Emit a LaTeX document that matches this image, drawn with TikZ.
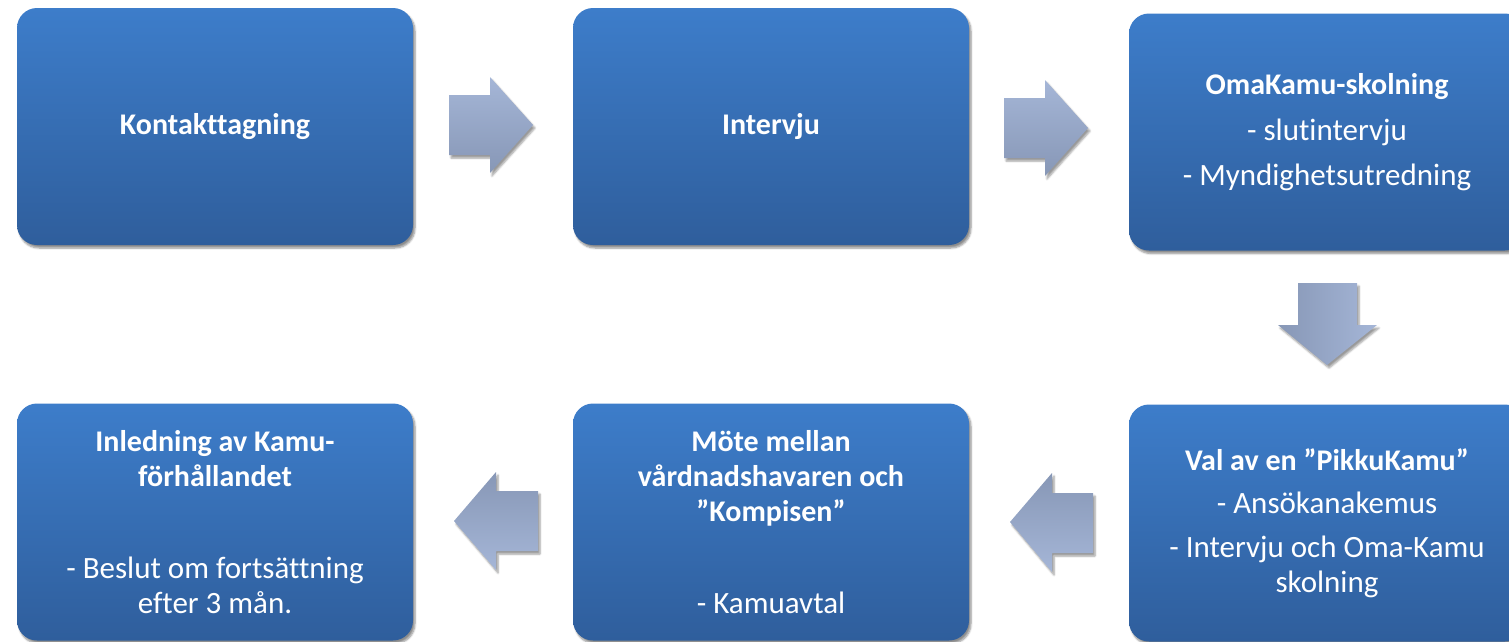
\documentclass[tikz,border=0pt]{standalone}
\usepackage{fontspec}
\setmainfont[Ligatures={NoCommon}]{Carlito}
\usetikzlibrary{shadows.blur}
\definecolor{boxtop}{HTML}{3D7DCA}
\definecolor{boxbot}{HTML}{2F5E9C}
\definecolor{arrlight}{HTML}{A5B6D7}
\definecolor{arrdark}{HTML}{8797B6}
\newcommand{\bt}[1]{{\fontsize{30}{35}\selectfont\bfseries #1}}
\tikzset{
  stepbox/.style={rounded corners=20pt, minimum width=396pt, minimum height=237pt,
    top color=boxtop, bottom color=boxbot, draw=none, text=white,
    align=flush center, text width=380pt, inner sep=0pt,
    blur shadow={shadow xshift=2pt, shadow yshift=-3pt, shadow blur steps=6, shadow opacity=45},
    font=\fontsize{31}{35}\selectfont},
  blockarrow/.style={draw=none,
    blur shadow={shadow xshift=2pt, shadow yshift=-3pt, shadow blur steps=5, shadow opacity=40}}
}
\begin{document}
\begin{tikzpicture}[x=1pt,y=-1pt]
\useasboundingbox (0,0) rectangle (1509,641);
% top row
\node[stepbox] (b1) at (215,126.5) {\bt{Kontakttagning}};
\node[stepbox] (b2) at (771,126.5) {\bt{Intervju}};
\node[stepbox] (b3) at (1327,132) {\bt{OmaKamu-skolning}\\[11pt]- slutintervju\\[10pt]- Myndighetsutredning};
% bottom row
\node[stepbox] (b6) at (215,522) {\bt{Inledning av Kamu-}\\\bt{förhållandet}\\[57pt]- Beslut om fortsättning\\efter 3 mån.};
\node[stepbox] (b5) at (771,522) {\bt{Möte mellan}\\\bt{vårdnadshavaren och}\\\bt{”Kompisen”}\\[57pt]- Kamuavtal};
\node[stepbox] (b4) at (1327,523) {\bt{Val av en ”PikkuKamu”}\\[8pt]- Ansökanakemus\\[9pt]- Intervju och Oma-Kamu\\skolning};
% block arrows
\path[blockarrow, top color=arrlight, bottom color=arrdark]
  (449,95) -- (490,95) -- (490,77) -- (533,125) -- (490,173) -- (490,155) -- (449,155) -- cycle;
\path[blockarrow, top color=arrlight, bottom color=arrdark]
  (1004,98) -- (1045,98) -- (1045,80) -- (1088,128) -- (1045,176) -- (1045,158) -- (1004,158) -- cycle;
\path[blockarrow, left color=arrdark, right color=arrlight]
  (1298,283) -- (1357,283) -- (1357,325) -- (1377,325) -- (1327,365) -- (1278,325) -- (1298,325) -- cycle;
\path[blockarrow, top color=arrdark, bottom color=arrlight]
  (1093,493) -- (1052,493) -- (1052,473) -- (1010,522) -- (1052,572) -- (1052,553) -- (1093,553) -- cycle;
\path[blockarrow, top color=arrdark, bottom color=arrlight]
  (538,491) -- (496,491) -- (496,472) -- (454,521) -- (496,570) -- (496,551) -- (538,551) -- cycle;
\end{tikzpicture}
\end{document}
